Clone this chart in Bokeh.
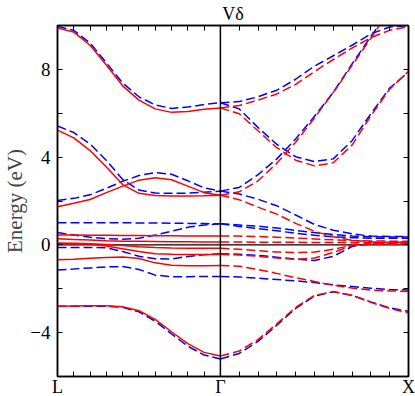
from bokeh.plotting import figure
from bokeh.models import FixedTicker, LinearAxis, Range1d, Span
from bokeh.embed import file_html
from bokeh.resources import INLINE

# ---- k-path ----
k_labels = ["L", "Γ", "X"]
k_nodes = [0.0, 0.866, 1.866]
frac = [0.0, 0.1, 0.2, 0.3, 0.4, 0.5, 0.6, 0.7, 0.8, 0.9, 1.0]

# ---- y axis ----
y_ticks = [-4, 0, 4, 8]
y_tick_labels = ["−4", "0", "4", "8"]
y_minor = [-6, -2, 2, 6, 10]

title_text = "Vδ"
y_label_text = "Energy (eV)"

# ---- L -> Gamma : blue (dashed) ----
blue_LG_1 = [9.95, 9.78, 9.2, 8.3, 7.38, 6.75, 6.38, 6.22, 6.28, 6.4, 6.48]
blue_LG_2 = [5.42, 5.12, 4.6, 3.85, 2.98, 2.5, 2.36, 2.35, 2.36, 2.4, 2.45]
blue_LG_3 = [2.02, 2.12, 2.28, 2.58, 2.9, 3.16, 3.3, 3.22, 2.92, 2.6, 2.45]
blue_LG_4 = [1.01, 1.01, 1.01, 1.01, 1.01, 1.0, 1.0, 0.99, 0.98, 0.97, 0.96]
blue_LG_5 = [0.56, 0.45, 0.35, 0.28, 0.26, 0.3, 0.45, 0.62, 0.8, 0.91, 0.96]
blue_LG_6 = [-0.12, -0.12, -0.12, -0.13, -0.3, -0.52, -0.63, -0.64, -0.53, -0.45, -0.4]
blue_LG_7 = [-1.14, -1.1, -1.05, -1.0, -0.99, -1.12, -1.38, -1.45, -1.45, -1.44, -1.44]
blue_LG_8 = [-2.8, -2.8, -2.8, -2.8, -2.85, -3.05, -3.48, -4.06, -4.62, -5.02, -5.2]

# ---- L -> Gamma : red (solid) ----
red_LG_1 = [9.88, 9.70, 9.1, 8.2, 7.25, 6.6, 6.2, 6.04, 6.08, 6.18, 6.24]
red_LG_2 = [5.23, 4.88, 4.3, 3.55, 2.75, 2.35, 2.25, 2.23, 2.23, 2.24, 2.26]
red_LG_3 = [1.74, 1.9, 2.07, 2.38, 2.68, 2.95, 3.06, 2.97, 2.68, 2.38, 2.26]
red_LG_4 = [0.45, 0.45, 0.44, 0.44, 0.43, 0.43, 0.42, 0.42, 0.41, 0.41, 0.41]
red_LG_5 = [0.28, 0.25, 0.22, 0.19, 0.17, 0.16, 0.15, 0.14, 0.14, 0.13, 0.13]
red_LG_6 = [0.08, 0.07, 0.05, 0.02, -0.03, -0.08, -0.12, -0.14, -0.15, -0.15, -0.15]
red_LG_7 = [0.05, 0.05, 0.04, -0.05, -0.18, -0.3, -0.4, -0.43, -0.44, -0.44, -0.44]
red_LG_8 = [-0.68, -0.65, -0.61, -0.57, -0.55, -0.62, -0.82, -0.93, -0.95, -0.95, -0.94]
red_LG_9 = [-2.8, -2.79, -2.78, -2.78, -2.82, -3.0, -3.4, -3.96, -4.5, -4.9, -5.07]

# ---- Gamma -> X : blue (dashed) ----
blue_GX_1 = [6.48, 6.53, 6.75, 7.05, 7.55, 8.15, 8.62, 9.1, 9.62, 9.93, 10.0]
blue_GX_2 = [6.48, 6.2, 5.35, 4.58, 4.02, 3.8, 3.92, 4.75, 5.98, 7.15, 7.88]
blue_GX_3 = [2.45, 2.62, 3.2, 3.92, 4.83, 5.86, 6.95, 8.25, 9.5, 10.7, 11.9]
blue_GX_4 = [2.45, 2.32, 2.08, 1.78, 1.36, 0.93, 0.67, 0.5, 0.4, 0.38, 0.38]
blue_GX_5 = [0.96, 0.91, 0.85, 0.77, 0.66, 0.56, 0.47, 0.41, 0.37, 0.36, 0.36]
blue_GX_6 = [0.96, 0.84, 0.74, 0.64, 0.53, 0.44, 0.37, 0.33, 0.3, 0.3, 0.3]
blue_GX_7 = [-0.4, -0.43, -0.48, -0.56, -0.65, -0.71, -0.52, -0.08, 0.08, 0.11, 0.12]
blue_GX_8 = [-1.44, -1.46, -1.52, -1.58, -1.64, -1.72, -1.82, -1.9, -1.98, -2.03, -2.06]
blue_GX_9 = [-5.2, -4.95, -4.4, -3.66, -2.9, -2.33, -2.14, -2.3, -2.6, -2.87, -3.03]

# ---- Gamma -> X : red (dashed) ----
red_GX_1 = [6.24, 6.35, 6.6, 6.88, 7.32, 7.9, 8.45, 8.97, 9.45, 9.78, 9.95]
red_GX_2 = [6.24, 5.98, 5.2, 4.43, 3.86, 3.6, 3.74, 4.55, 5.88, 7.1, 7.91]
red_GX_3 = [2.26, 2.42, 2.92, 3.72, 4.68, 5.78, 6.95, 8.18, 9.42, 10.7, 11.9]
red_GX_4 = [2.26, 2.06, 1.72, 1.4, 0.98, 0.62, 0.37, 0.21, 0.14, 0.11, 0.1]
red_GX_5 = [0.41, 0.4, 0.38, 0.35, 0.31, 0.27, 0.23, 0.2, 0.18, 0.17, 0.16]
red_GX_6 = [0.13, 0.13, 0.12, 0.12, 0.12, 0.11, 0.11, 0.1, 0.1, 0.1, 0.1]
red_GX_7 = [-0.15, -0.2, -0.27, -0.32, -0.35, -0.33, -0.2, -0.02, 0.04, 0.05, 0.05]
red_GX_8 = [-0.44, -0.46, -0.52, -0.6, -0.66, -0.6, -0.35, -0.03, 0.03, 0.04, 0.04]
red_GX_9 = [-0.94, -0.97, -1.12, -1.3, -1.5, -1.67, -1.84, -1.97, -2.06, -2.1, -2.12]
red_GX_10 = [-5.07, -4.84, -4.32, -3.6, -2.85, -2.3, -2.13, -2.3, -2.62, -2.9, -3.1]

blue_LG = [blue_LG_1, blue_LG_2, blue_LG_3, blue_LG_4, blue_LG_5, blue_LG_6, blue_LG_7, blue_LG_8]
red_LG = [red_LG_1, red_LG_2, red_LG_3, red_LG_4, red_LG_5, red_LG_6, red_LG_7, red_LG_8, red_LG_9]
blue_GX = [blue_GX_1, blue_GX_2, blue_GX_3, blue_GX_4, blue_GX_5, blue_GX_6, blue_GX_7, blue_GX_8, blue_GX_9]
red_GX = [red_GX_1, red_GX_2, red_GX_3, red_GX_4, red_GX_5, red_GX_6, red_GX_7, red_GX_8, red_GX_9, red_GX_10]

x_LG = [k_nodes[0] + f * (k_nodes[1] - k_nodes[0]) for f in frac]
x_GX = [k_nodes[1] + f * (k_nodes[2] - k_nodes[1]) for f in frac]

SERIF = "Liberation Serif"
RED = "#ff0000"
BLUE = "#0000ff"
DASH = "9 4"
LW = 1.5
FW, FH = 351, 351

p = figure(frame_width=FW, frame_height=FH,
           x_range=Range1d(k_nodes[0], k_nodes[2]), y_range=Range1d(-6, 10),
           output_backend="svg", toolbar_location=None,
           min_border_left=57, min_border_right=7, min_border_top=24, min_border_bottom=20)
p.background_fill_color = "white"
p.border_fill_color = "white"
p.outline_line_color = "black"
p.outline_line_width = 1.5
p.xgrid.visible = False
p.ygrid.visible = False

p.title.text = title_text
p.title.align = "center"
p.title.offset = -7
p.title.text_font = SERIF
p.title.text_font_size = "18px"
p.title.text_font_style = "normal"
p.title.text_color = "black"
p.title.standoff = 3

minor_x = ([k_nodes[0] + i * (k_nodes[1] - k_nodes[0]) / 10 for i in range(1, 10)] +
           [k_nodes[1] + i * (k_nodes[2] - k_nodes[1]) / 10 for i in range(1, 10)])


def style_axis(ax):
    ax.axis_line_color = "black"
    ax.axis_line_width = 1.5
    ax.major_tick_line_color = "black"
    ax.minor_tick_line_color = "black"
    ax.major_tick_line_width = 1
    ax.minor_tick_line_width = 1
    ax.major_tick_in = 5
    ax.major_tick_out = 0
    ax.minor_tick_in = 5
    ax.minor_tick_out = 0
    ax.major_label_text_font = SERIF
    ax.major_label_text_color = "black"


xa = p.xaxis[0]
xa.ticker = FixedTicker(ticks=k_nodes, minor_ticks=minor_x)
xa.major_label_overrides = {k: lab for k, lab in zip(k_nodes, k_labels)}
style_axis(xa)
xa.major_label_text_font_size = "18px"
xa.major_label_standoff = 0

ya = p.yaxis[0]
ya.ticker = FixedTicker(ticks=y_ticks, minor_ticks=y_minor)
ya.major_label_overrides = {t: lab for t, lab in zip(y_ticks, y_tick_labels)}
style_axis(ya)
ya.major_label_text_font_size = "19px"
ya.major_label_standoff = 7
ya.axis_label = y_label_text
ya.axis_label_text_font = SERIF
ya.axis_label_text_font_size = "21px"
ya.axis_label_text_font_style = "normal"
ya.axis_label_standoff = 0

# unlabeled tick axes on top and right (all ticks as minor ticks, so no labels)
top = LinearAxis(ticker=FixedTicker(ticks=[], minor_ticks=k_nodes + minor_x))
style_axis(top)
p.add_layout(top, "above")
right = LinearAxis(ticker=FixedTicker(ticks=[], minor_ticks=y_ticks + y_minor))
style_axis(right)
p.add_layout(right, "right")

p.add_layout(Span(location=0, dimension="width", line_color="black", line_width=1.2, level="underlay"))
p.add_layout(Span(location=k_nodes[1], dimension="height", line_color="black", line_width=1.5))

p.multi_line(xs=[x_LG] * len(blue_LG), ys=blue_LG, line_color=BLUE, line_width=LW, line_dash=DASH)
p.multi_line(xs=[x_GX] * len(blue_GX), ys=blue_GX, line_color=BLUE, line_width=LW, line_dash=DASH)
p.multi_line(xs=[x_LG] * len(red_LG), ys=red_LG, line_color=RED, line_width=LW)
p.multi_line(xs=[x_GX] * len(red_GX), ys=red_GX, line_color=RED, line_width=LW, line_dash=DASH)

open("out.html", "w").write(file_html(p, INLINE))
